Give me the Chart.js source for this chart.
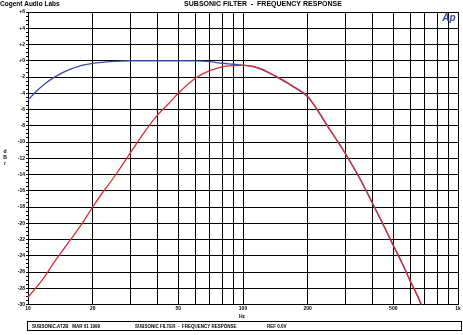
<!DOCTYPE html>
<html>
<head>
<meta charset="utf-8">
<script src="https://cdn.jsdelivr.net/npm/chart.js@4.4.1/dist/chart.umd.min.js"></script>
<style>
  body { margin: 0; background: #fff; }
  canvas { display: block; }
</style>
</head>
<body>
<canvas id="chart" width="463" height="335"></canvas>
<script>
'use strict';

// frequency points (Hz)
const freqs = [10, 11, 12, 13, 14, 15, 16, 18, 20, 22, 25, 30, 35, 40, 45, 50, 60, 70, 80, 90,
  100, 110, 120, 130, 150, 170, 200, 250, 300, 350, 400, 450, 500, 550, 600, 650, 675];

// red trace (dBr)
const redDb = [-29.1, -27.8, -26.5, -25.1, -23.9, -22.8, -21.8, -19.9, -18.0, -16.4, -14.4, -11.3, -8.7, -6.7, -5.3, -4.0, -2.15, -1.22, -0.75, -0.6,
  -0.57, -0.67, -0.95, -1.35, -2.23, -3.1, -4.4, -8.2, -11.45, -14.5, -17.5, -20.2, -22.7, -24.9, -27.1, -29.0, -30.0];

// blue trace (dBr)
const blueDb = [-4.83, -3.69, -2.82, -2.17, -1.68, -1.27, -0.97, -0.53, -0.31, -0.2, -0.07, 0, 0, 0, 0, 0, -0.02, -0.12, -0.31, -0.43,
  -0.55, -0.7, -1.0, -1.42, -2.3, -3.15, -4.45, -8.25, -11.5, -14.55, -17.55, -20.25, -22.75, -24.95, -27.15, -29.05, -30.05];

const yTickValues = [6, 4, 2, 0, -2, -4, -6, -8, -10, -12, -14, -16, -18, -20, -22, -24, -26, -28, -30];
const yTickLabels = ['+6', '+4', '+2', '+0', '-2', '-4', '-6', '-8', '-10', '-12', '-14', '-16', '-18', '-20', '-22', '-24', '-26', '-28', '-30'];

const xGridValues = [10, 20, 30, 40, 50, 60, 70, 80, 90, 100, 200, 300, 400, 500, 600, 700, 800, 900, 1000];
const xLabelValues = [10, 20, 50, 100, 200, 500, 1000];
const xLabelTexts = ['10', '20', '50', '100', '200', '500', '1k'];

const boldFont = size => ({ family: "'Liberation Sans', Arial, sans-serif", size: size, weight: 'bold' });

function toPoints(values) {
  return freqs.map((f, i) => ({ x: f, y: values[i] }));
}

const textPlugin = {
  id: 'apTexts',
  afterDraw(chart) {
    const c = chart.ctx;
    c.save();
    c.fillStyle = '#000';
    c.textBaseline = 'middle';

    c.font = "bold 6.5px 'Liberation Sans', Arial, sans-serif";
    c.textAlign = 'left';
    c.fillText('Cogent Audio Labs', 0, 4);

    c.font = "bold 7px 'Liberation Sans', Arial, sans-serif";
    c.textAlign = 'center';
    c.fillText('SUBSONIC FILTER  -  FREQUENCY RESPONSE', 263, 4);

    // axis titles
    c.font = "bold 5px 'Liberation Sans', Arial, sans-serif";
    c.fillText('d', 5, 152);
    c.fillText('B', 5, 158);
    c.fillText('r', 5, 164);
    c.fillText('Hz', 242, 317);

    // Ap logo
    c.fillStyle = '#3a48a8';
    c.font = "italic bold 10px 'Liberation Sans', Arial, sans-serif";
    c.fillText('Ap', 449, 18);

    // footer box
    c.strokeStyle = '#000';
    c.lineWidth = 1;
    c.strokeRect(27.5, 321.5, 434, 9);
    c.fillStyle = '#000';
    c.font = "bold 4.5px 'Liberation Sans', Arial, sans-serif";
    c.textAlign = 'left';
    c.fillText('SUBSONIC.AT2B   MAR 01 1999', 32, 326.5);
    c.fillText('SUBSONIC FILTER  -  FREQUENCY RESPONSE', 135, 326.5);
    c.fillText('REF 0.0V', 267, 326.5);
    c.restore();
  }
};

const ctx = document.getElementById('chart').getContext('2d');
const subsonicChart = new Chart(ctx, {
  type: 'line',
  data: {
    datasets: [
      {
        label: 'red',
        data: toPoints(redDb),
        borderColor: '#d93030',
        borderWidth: 1.3,
        pointRadius: 0,
        cubicInterpolationMode: 'monotone',
        fill: false
      },
      {
        label: 'blue',
        data: toPoints(blueDb),
        borderColor: '#3a4ca8',
        borderWidth: 1.3,
        pointRadius: 0,
        cubicInterpolationMode: 'monotone',
        fill: false
      }
    ]
  },
  options: {
    responsive: false,
    animation: false,
    layout: { padding: { top: 12, right: 5, left: 0, bottom: 0 } },
    plugins: {
      legend: { display: false },
      tooltip: { enabled: false }
    },
    scales: {
      x: {
        type: 'logarithmic',
        min: 10,
        max: 1000,
        afterBuildTicks: s => { s.ticks = xGridValues.map(v => ({ value: v })); },
        afterFit: s => { s.height = 30.5; },
        ticks: {
          autoSkip: false,
          maxRotation: 0,
          padding: 1,
          color: '#000',
          font: boldFont(5),
          callback: v => {
            const i = xLabelValues.indexOf(Number(v));
            return i >= 0 ? xLabelTexts[i] : '';
          }
        },
        grid: { color: '#000', lineWidth: 1, drawTicks: false },
        border: { color: '#000' }
      },
      y: {
        min: -30,
        max: 6,
        afterBuildTicks: s => {
          const t = [];
          for (let v = -30; v <= 6; v += 0.5) t.push({ value: v });
          s.ticks = t;
        },
        afterFit: s => { s.width = 28; },
        ticks: {
          autoSkip: false,
          padding: 1,
          color: '#000',
          font: boldFont(5),
          callback: v => {
            const i = yTickValues.indexOf(Number(v));
            return i >= 0 ? yTickLabels[i] : '';
          }
        },
        grid: {
          color: c => (yTickValues.includes(c.tick.value) ? '#000' : 'rgba(0,0,0,0)'),
          tickColor: '#000',
          tickLength: 2,
          lineWidth: 1
        },
        border: { color: '#000' }
      }
    }
  },
  plugins: [textPlugin]
});
</script>
</body>
</html>
